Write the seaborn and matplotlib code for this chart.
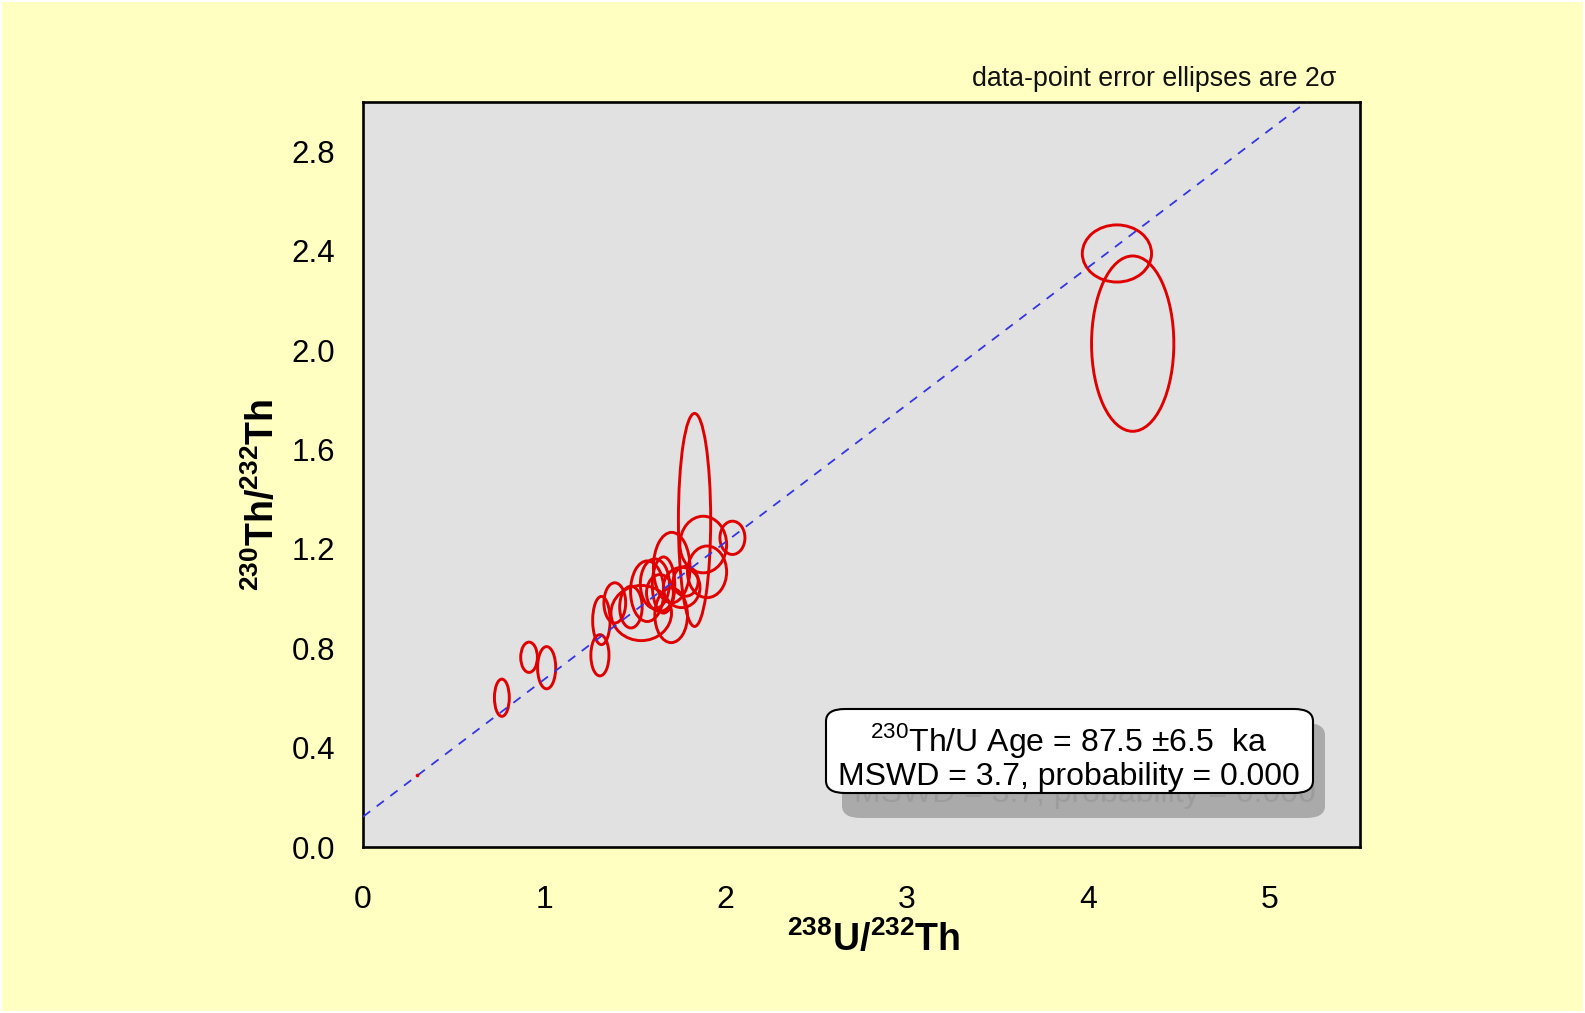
import matplotlib
matplotlib.use("Agg")
import matplotlib.pyplot as plt
import seaborn as sns
import numpy as np
import pandas as pd
from matplotlib.patches import Ellipse, FancyBboxPatch, Rectangle
from matplotlib.ticker import MultipleLocator
from matplotlib import font_manager as fm

# ---------------- data ----------------
# ellipse centres (238U/232Th, 230Th/232Th) and 2-sigma semi-axes
ell_x = [0.766, 0.916, 1.013, 1.307, 1.315, 1.389, 1.535, 1.478, 1.568, 1.658,
         1.703, 1.700, 1.758, 1.829, 1.877, 1.898, 2.038, 1.780, 1.638, 1.610,
         4.159, 4.246]
ell_y = [0.601, 0.764, 0.722, 0.772, 0.912, 0.983, 0.942, 0.966, 1.030, 1.055,
         1.125, 0.933, 1.045, 1.317, 1.218, 1.108, 1.245, 1.070, 1.023, 1.060,
         2.390, 2.027]
ell_sx = [0.041, 0.046, 0.050, 0.050, 0.048, 0.060, 0.167, 0.062, 0.092, 0.062,
          0.101, 0.090, 0.101, 0.089, 0.129, 0.108, 0.069, 0.069, 0.074, 0.080,
          0.191, 0.227]
ell_sy = [0.075, 0.061, 0.085, 0.083, 0.097, 0.081, 0.111, 0.084, 0.122, 0.113,
          0.142, 0.110, 0.081, 0.429, 0.114, 0.104, 0.067, 0.060, 0.074, 0.100,
          0.115, 0.353]

# tiny point near origin
dot_x = [0.30]
dot_y = [0.29]

# isochron
iso_slope = 0.553
iso_intercept = 0.122

x_ticks = [0, 1, 2, 3, 4, 5]
y_ticks = [0.0, 0.4, 0.8, 1.2, 1.6, 2.0, 2.4, 2.8]
x_lim = (0, 5.5)
y_lim = (0, 3.0)

age_text = r"$^{230}$Th/U Age = 87.5 ±6.5  ka"
mswd_text = "MSWD = 3.7, probability = 0.000"
note_text = "data-point error ellipses are 2σ"

# ---------------- style ----------------
sns.set_theme(style="white")
names = {f.name for f in fm.fontManager.ttflist}
narrow = "Liberation Sans Narrow" if "Liberation Sans Narrow" in names else "Liberation Sans"
plt.rcParams["font.family"] = ["Liberation Sans", "DejaVu Sans"]
plt.rcParams["mathtext.fontset"] = "custom"
plt.rcParams["mathtext.rm"] = "Liberation Sans"
plt.rcParams["mathtext.bf"] = narrow + ":bold"

W, H = 1585, 1013
fig = plt.figure(figsize=(W / 100, H / 100), dpi=100)
fig.patch.set_facecolor("#FFFFC2")
fig.patches.append(Rectangle((0, 0), 1, 1, transform=fig.transFigure, fill=False,
                             edgecolor="white", linewidth=3, zorder=10))

L, R, T, B = 363, 1360, 102, 847
ax = fig.add_axes([L / W, 1 - B / H, (R - L) / W, (B - T) / H])
ax.set_facecolor("#E1E1E1")

# ellipses
for x, y, sx, sy in zip(ell_x, ell_y, ell_sx, ell_sy):
    ax.add_patch(Ellipse((x, y), 2 * sx, 2 * sy, fill=False, edgecolor="#E00000",
                         linewidth=2.1, zorder=3))

# isochron line
line_df = pd.DataFrame({"x": list(x_lim)})
line_df["y"] = iso_intercept + iso_slope * line_df["x"]
sns.lineplot(data=line_df, x="x", y="y", ax=ax, color="#3535E0", linewidth=1.3,
             dashes=False, zorder=4)
ax.lines[-1].set_dashes([5, 4.5])

sns.scatterplot(x=dot_x, y=dot_y, ax=ax, color="#E00000", s=7, linewidth=0, zorder=5)

ax.set_xlim(*x_lim)
ax.set_ylim(*y_lim)
ax.set_xticks(x_ticks)
ax.set_yticks(y_ticks)
ax.set_xticklabels([str(t) for t in x_ticks], fontfamily=narrow, fontsize=23)
ax.set_yticklabels([f"{t:.1f}" for t in y_ticks], fontsize=22.5)
ax.xaxis.set_minor_locator(MultipleLocator(0.5))
ax.yaxis.set_minor_locator(MultipleLocator(0.2))
ax.tick_params(axis="both", which="both", direction="in", top=False, right=False,
               colors="black", width=1.5)
ax.tick_params(axis="x", which="major", length=9, pad=27)
ax.tick_params(axis="x", which="minor", length=7)
ax.tick_params(axis="y", which="major", length=7, pad=20)
ax.tick_params(axis="y", which="minor", length=7)
for s in ax.spines.values():
    s.set_color("black")
    s.set_linewidth(1.9)

ax.set_xlabel(r"$\mathbf{{}^{238}U/{}^{232}Th}$", fontsize=27, color="black")
ax.set_ylabel(r"$\mathbf{{}^{230}Th/{}^{232}Th}$", fontsize=27, color="black")
ax.xaxis.set_label_coords((874 - L) / (R - L), -(920 - B) / (B - T), transform=ax.transAxes)
ax.yaxis.set_label_coords(-(L - 282) / (R - L), (B - 495) / (B - T), transform=ax.transAxes)

# note above the plot
fig.text(1336 / W, 1 - 79 / H, note_text, ha="right", va="center", fontsize=19.3,
         color="#111111")

# result box with shadow
def fx(px):
    return px / W

def fy(py):
    return 1 - py / H

sh = FancyBboxPatch((fx(842), fy(818)), fx(1325) - fx(842), fy(723) - fy(818),
                    boxstyle="round,pad=0,rounding_size=0.012", transform=fig.transFigure,
                    facecolor="#AAAAAA", edgecolor="none", zorder=20)
fig.patches.append(sh)
fig.text(fx(1069 + 16), fy(777 + 17), mswd_text, ha="center", va="center",
         fontsize=23, color="#9C9C9C", zorder=21)
bx = FancyBboxPatch((fx(826), fy(793)), fx(1313) - fx(826), fy(709) - fy(793),
                    boxstyle="round,pad=0,rounding_size=0.012", transform=fig.transFigure,
                    facecolor="white", edgecolor="black", linewidth=1.5, zorder=22)
fig.patches.append(bx)
fig.text(fx(1069), fy(740), age_text, ha="center", va="center", fontsize=23,
         color="black", zorder=23)
fig.text(fx(1069), fy(777), mswd_text, ha="center", va="center", fontsize=23,
         color="black", zorder=23)

fig.savefig("out.png", dpi=100, facecolor=fig.get_facecolor())
